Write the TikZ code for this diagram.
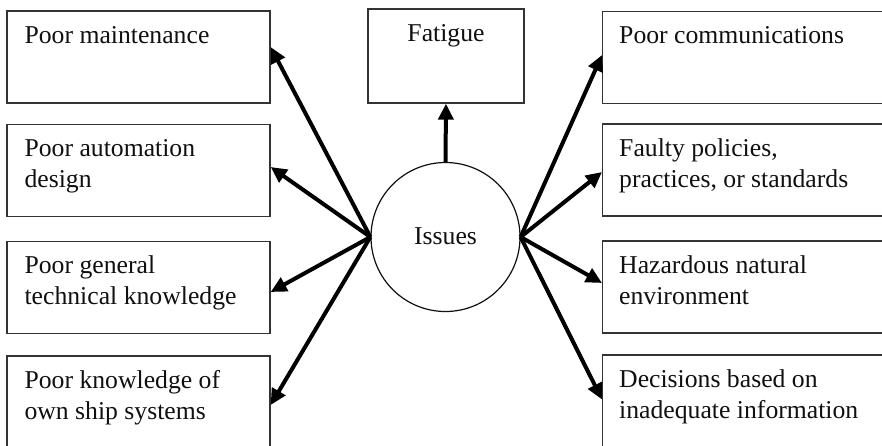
\documentclass[tikz,border=0pt]{standalone}
\usepackage{fontspec}
\setmainfont{Liberation Serif}
\usetikzlibrary{arrows.meta,calc}
\definecolor{edgegray}{HTML}{333333}
\definecolor{inkblack}{HTML}{101010}
\begin{document}
\begin{tikzpicture}[x=1pt,y=-1pt,
  box/.style={draw=edgegray,line width=1.3pt,minimum width=263pt,minimum height=92pt,inner sep=0pt},
  lbl/.style={anchor=base west,inner sep=0pt,align=left,text=inkblack,
    font=\fontsize{25.7}{31}\selectfont},
  link/.style={draw=black,line width=4pt,-{Triangle[length=16pt,width=15pt]}}]
\clip (0,0) rectangle (882,445);
% left column of boxes
\node[box] (l1) at (138.5,57) {};
\node[box] (l2) at (138.5,170.5) {};
\node[box] (l3) at (138.5,287.5) {};
\node[box] (l4) at (138.5,402) {};
% right column of boxes (running past the right edge)
\node[box,minimum width=300pt,anchor=west] (r1) at (602,57.5) {};
\node[box,minimum width=300pt,anchor=west] (r2) at (602,170) {};
\node[box,minimum width=300pt,anchor=west] (r3) at (602,287) {};
\node[box,minimum width=300pt,anchor=west] (r4) at (602,401) {};
% top box
\node[box,minimum width=156pt,minimum height=94pt] (fat) at (446,56) {};
% central circle
\node[circle,draw=inkblack,line width=1.2pt,minimum size=149pt,inner sep=0pt] (iss) at (445.5,237) {};
% texts (the base anchor of a two-line label sits on its second line)
\node[lbl] (tl1) at ($(l1.north west)+(18,33)$) {Poor maintenance};
\node[lbl] (tl2) at ($(l2.north west)+(18,64)$) {Poor automation\\design};
\node[lbl] (tl3) at ($(l3.north west)+(18,64)$) {Poor general\\technical knowledge};
\node[lbl] (tl4) at ($(l4.north west)+(18,64)$) {Poor knowledge of\\own ship systems};
\node[lbl] (tr1) at ($(r1.north west)+(17,33)$) {Poor communications};
\node[lbl] (tr2) at ($(r2.north west)+(17,64)$) {Faulty policies,\\practices, or standards};
\node[lbl] (tr3) at ($(r3.north west)+(17,64)$) {Hazardous natural\\environment};
\node[lbl] (tr4) at ($(r4.north west)+(17,64)$) {Decisions based on\\inadequate information};
\node[lbl,anchor=base] (tf) at ($(fat.north)+(0,33)$) {Fatigue};
\node[lbl,anchor=base] (ti) at ($(iss.center)+(0,7)$) {Issues};
% connectors
\draw[link] (iss.north) -- (fat.south);
\draw[link] (iss.west) -- ([yshift=10pt]l1.east);
\draw[link] (iss.west) -- ([yshift=3.5pt]l2.east);
\draw[link] (iss.west) -- ([yshift=-4.5pt]l3.east);
\draw[link] (iss.west) -- ([yshift=-3pt]l4.east);
\draw[link] (iss.east) -- ([yshift=2.5pt]r1.west);
\draw[link] (iss.east) -- ([yshift=-2pt]r2.west);
\draw[link] (iss.east) -- ([yshift=4pt]r3.west);
\draw[link] (iss.east) -- ([yshift=1.5pt]r4.west);
\end{tikzpicture}
\end{document}
